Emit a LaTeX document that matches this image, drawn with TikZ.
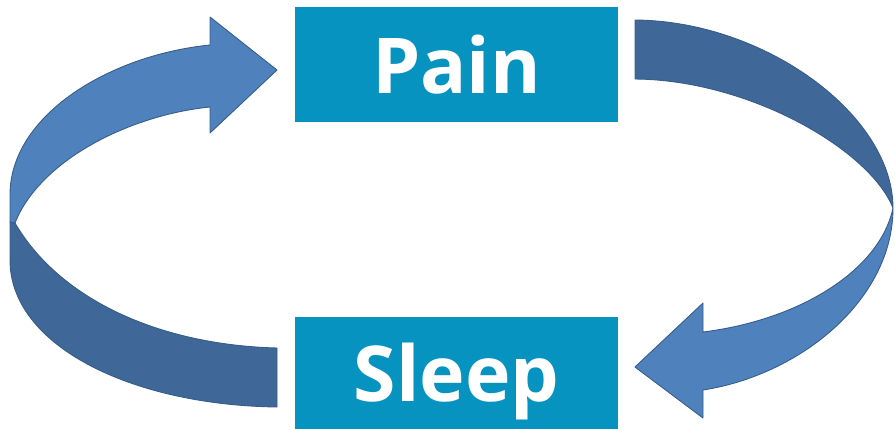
\documentclass[tikz,border=0pt]{standalone}
\usepackage{fontspec}
\setmainfont{Open Sans}
\usetikzlibrary{positioning}
\definecolor{boxteal}{RGB}{6, 147, 191}
\definecolor{arrowfront}{RGB}{79, 129, 189}
\definecolor{arrowback}{RGB}{63, 103, 151}
\definecolor{arrowline}{RGB}{56, 93, 138}

\begin{document}
\begin{tikzpicture}[x=1pt, y=-1pt,
		box/.style={shape=rectangle, fill=boxteal, text=white, inner sep=0pt, minimum width=323pt, text height=57pt, text depth=0pt, font=\bfseries\fontsize{77}{77}\selectfont},
		front/.style={fill=arrowfront, draw=arrowline, line width=0.9pt, line join=round},
		back/.style={fill=arrowback, draw=arrowline, line width=0.9pt, line join=round}]
		\useasboundingbox (0,0) rectangle (895,429);
		
		% Boxes
		\node[box, minimum height=115pt] (pain) at (456.5,64.5) {Pain};
		\node[box, minimum height=112pt] (sleep) at (456.5,373) {Sleep};
		
		% Left arrow (sleep -> pain)
		\draw[back] (15,223) .. controls (60,300) and (160,345) .. (277,348) -- (277,407)
			.. controls (130,405) and (10,345) .. (10,260) -- (10,222) -- cycle;
		\draw[front] (277,70) -- (210,17) -- (210,45) .. controls (110,55) and (10,115) .. (10,195)
			-- (10,222) -- (15,223) .. controls (40,160) and (130,115) .. (210,107) -- (210,133) -- cycle;
		
		% Right arrow (pain -> sleep)
		\draw[back] (635,20) .. controls (765,21) and (893,115) .. (893,208)
			.. controls (870,150) and (750,80) .. (635,79) -- cycle;
		\draw[front] (893,208) .. controls (893,300) and (800,375) .. (703,390) -- (703,418) -- (635,367)
			-- (703,303) -- (703,332) .. controls (800,320) and (880,270) .. (893,208) -- cycle;
	\end{tikzpicture}
\end{document}
